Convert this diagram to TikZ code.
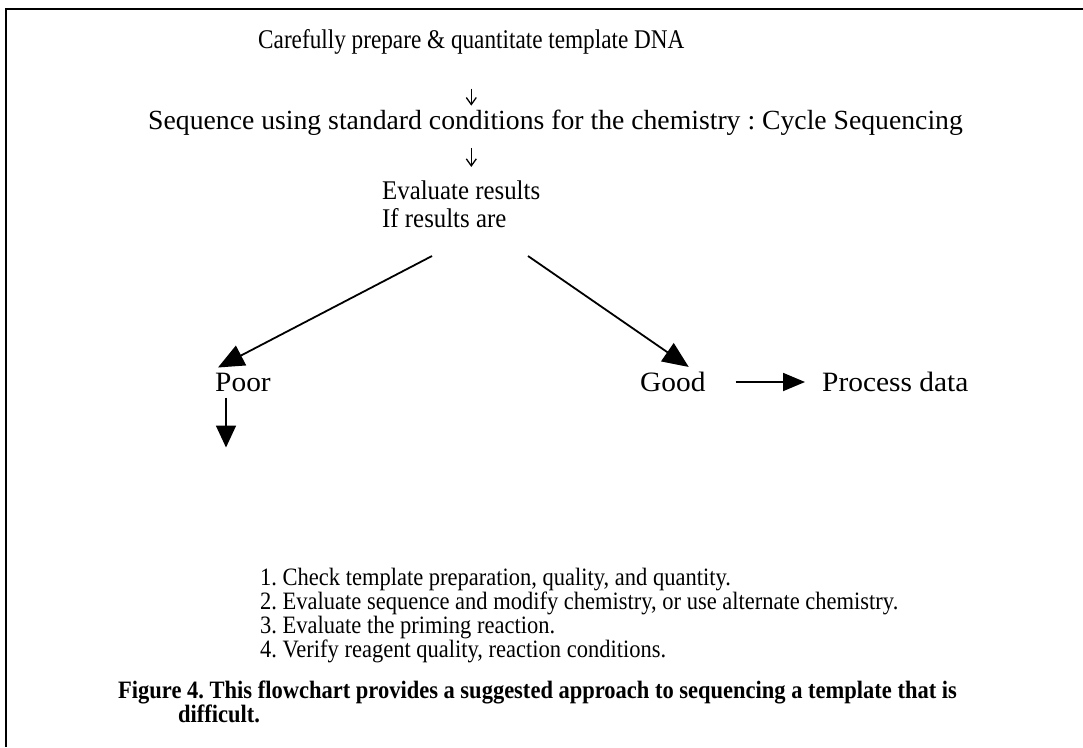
\documentclass[tikz,border=0pt]{standalone}
\usepackage{fontspec}
\setmainfont{Liberation Serif}
\newfontfamily\narrowfont[FakeStretch=0.86]{Liberation Serif}
\newfontfamily\evalfont[FakeStretch=0.92]{Liberation Serif}
\newfontfamily\listfont[FakeStretch=0.9]{Liberation Serif}
\newfontfamily\widefont[FakeStretch=1.05]{Liberation Serif}
\frenchspacing
\usetikzlibrary{arrows.meta, positioning}
\tikzset{
  txt/.style={inner sep=0pt, anchor=west},
  glyph arrow/.style={-{Straight Barb[length=7pt,width=10pt]}, line width=1.3pt},
  big arrow/.style={-{Triangle[length=26pt,width=22pt]}, line width=1.8pt},
}

\begin{document}
\begin{tikzpicture}[x=1pt, y=-1pt]
\useasboundingbox (0,0) rectangle (1083,747);
% frame, open at right and bottom
\draw[line width=2pt] (1083,9) -- (6,9) -- (6,747);

\node[txt, font=\narrowfont\fontsize{27}{30}\selectfont] (prep) at (258,42) {Carefully prepare \& quantitate template DNA};
\node[txt, font=\fontsize{27.7}{30}\selectfont] (seq) at (148,123) {Sequence using standard conditions for the chemistry : Cycle Sequencing};
\node[txt, font=\evalfont\fontsize{27}{30}\selectfont] (eval) at (382,190) {Evaluate results};
\node[txt, font=\evalfont\fontsize{27}{30}\selectfont] (ifres) at (382,218) {If results are};
\node[txt, font=\widefont\fontsize{28}{30}\selectfont] (poor) at (215,382) {Poor};
\node[txt, font=\widefont\fontsize{28}{30}\selectfont] (good) at (640,382) {Good};
\node[txt, font=\widefont\fontsize{28}{30}\selectfont] (process) at (822,382) {Process data};
\node[txt, align=left, font=\listfont\fontsize{25}{24}\selectfont] (checks) at (260,616) {1. Check template preparation, quality, and quantity.\\
  2. Evaluate sequence and modify chemistry, or use alternate chemistry.\\
  3. Evaluate the priming reaction.\\
  4. Verify reagent quality, reaction conditions.};
\node[txt, align=left, font=\listfont\fontsize{25}{23}\selectfont\bfseries] (caption) at (118,702)
  {Figure 4. This flowchart provides a suggested approach to sequencing a template that is\\
  \hspace*{60pt}difficult.};

% small arrows
\draw[glyph arrow] ([yshift=-34pt]prep.south) -- ++(0,17);
\draw[glyph arrow] ([yshift=-12pt]seq.south -| prep.south) -- ++(0,19);

% branches
\coordinate (splitL) at (432,256);
\coordinate (splitR) at (528,256);
\draw[big arrow] (splitL) -- ([xshift=3pt,yshift=5pt]poor.north west);
\draw[big arrow] (splitR) -- ([xshift=-17pt,yshift=5pt]good.north east);
\draw[big arrow, -{Triangle[length=22pt,width=18pt]}, shorten <=30pt, shorten >=17pt] (good.east) -- (process.west);
\draw[big arrow, -{Triangle[length=22pt,width=20pt]}] ([xshift=11pt,yshift=-6pt]poor.south west) -- ++(0,50);
\end{tikzpicture}
\end{document}
